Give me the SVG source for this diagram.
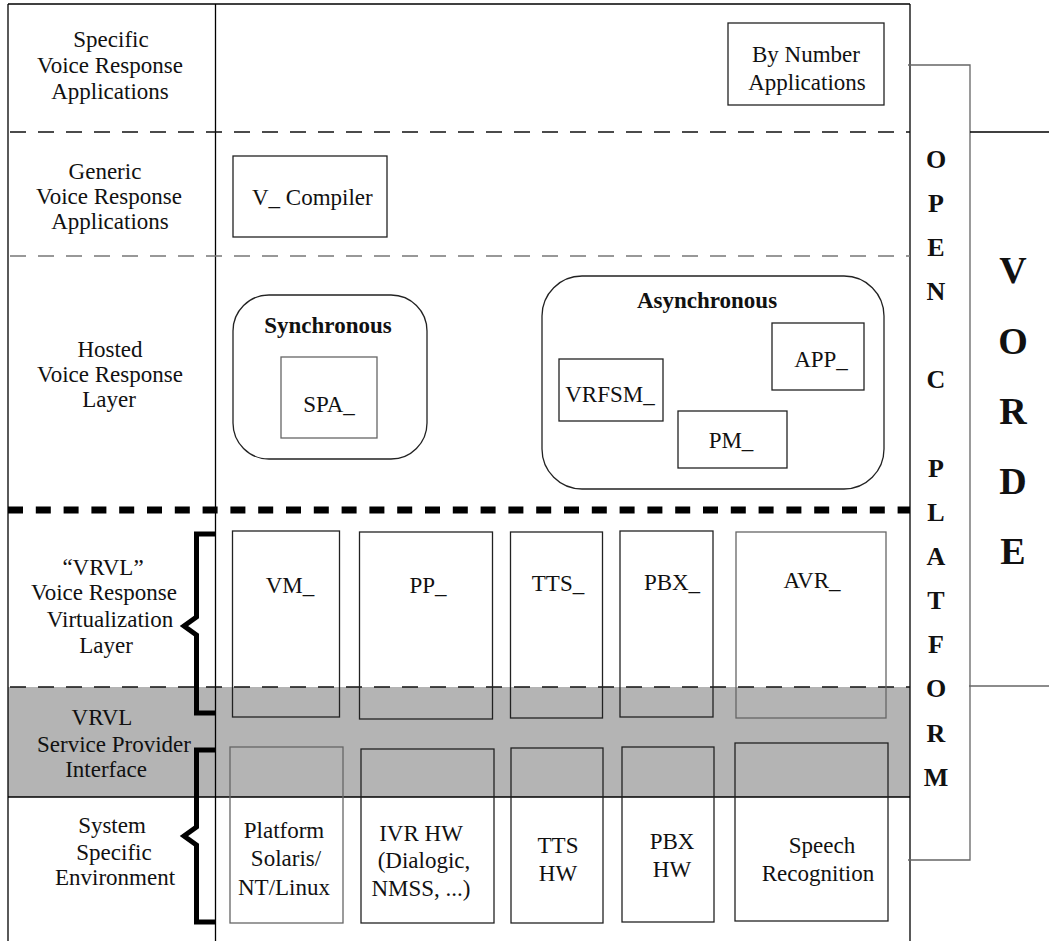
<svg xmlns="http://www.w3.org/2000/svg" width="1049" height="941" viewBox="0 0 1049 941">
<style>
text { font-family: "Liberation Serif", "Times New Roman", serif; font-size: 23px; fill: #111; }
.c { text-anchor: middle; }
.b { font-weight: bold; }
.ltr { font-weight: bold; font-size: 26px; text-anchor: middle; }
.big { font-weight: bold; font-size: 38px; text-anchor: middle; }
.fr { stroke: #000; stroke-width: 1.3; fill: none; }
.bx { stroke: #222; stroke-width: 1.3; fill: none; }
.gr { stroke: #666; stroke-width: 1.3; fill: none; }
.d1 { stroke: #111; stroke-width: 1.3; stroke-dasharray: 16 12; }
.d2 { stroke: #777; stroke-width: 1.3; stroke-dasharray: 16 12; }
.thick { stroke: #000; stroke-width: 7; stroke-dasharray: 15 12.8; }
.brace { stroke: #000; stroke-width: 5; fill: none; stroke-linejoin: miter; }
</style>
<rect x="0" y="0" width="1049" height="941" fill="#fff"/>
<rect x="8" y="687" width="902" height="110" fill="#b4b4b4"/>

<g id="frame">
  <line class="fr" x1="8" y1="4" x2="910" y2="4"/>
  <line class="fr" x1="8" y1="4" x2="8" y2="941"/>
  <line class="fr" x1="215.5" y1="4" x2="215.5" y2="941"/>
  <line class="fr" x1="910" y1="4" x2="910" y2="941"/>
  <line class="fr" x1="8" y1="797" x2="910" y2="797"/>
</g>

<g id="layer-lines">
  <line class="d1" x1="10" y1="132" x2="910" y2="132"/>
  <line class="d2" x1="10" y1="256" x2="910" y2="256"/>
  <line class="thick" x1="8" y1="510" x2="910" y2="510"/>
  <line class="d1" x1="10" y1="687" x2="910" y2="687"/>
</g>

<g id="layer-labels">
  <text class="c" x="111" y="47">Specific</text>
  <text class="c" x="110" y="73">Voice Response</text>
  <text class="c" x="110" y="99">Applications</text>
  <text class="c" x="105" y="179">Generic</text>
  <text class="c" x="109" y="204">Voice Response</text>
  <text class="c" x="110" y="229">Applications</text>
  <text class="c" x="110" y="357">Hosted</text>
  <text class="c" x="110" y="382">Voice Response</text>
  <text class="c" x="109" y="407">Layer</text>
  <text class="c" x="103" y="575">“VRVL”</text>
  <text class="c" x="104" y="600">Voice Response</text>
  <text class="c" x="110" y="627">Virtualization</text>
  <text class="c" x="106" y="653">Layer</text>
  <text class="c" x="102" y="725">VRVL</text>
  <text class="c" x="114" y="752">Service Provider</text>
  <text class="c" x="106" y="777">Interface</text>
  <text class="c" x="112" y="833">System</text>
  <text class="c" x="114" y="860">Specific</text>
  <text class="c" x="115" y="885">Environment</text>
</g>

<g id="braces">
  <path class="brace" d="M215,534 H196.5 V617 L184,626 L196.5,635 V713 H215"/>
  <path class="brace" d="M215,750 H196.5 V827 L184,836 L196.5,845 V922 H215"/>
</g>

<g id="by-number">
  <rect class="bx" x="728" y="23" width="156" height="82"/>
  <text class="c" x="806" y="62">By Number</text>
  <text class="c" x="807" y="90">Applications</text>
</g>

<g id="v-compiler">
  <rect class="bx" x="233" y="156" width="154" height="81"/>
  <text x="252" y="205">V_ Compiler</text>
</g>

<g id="synchronous">
  <rect class="bx" x="233" y="295" width="194" height="164" rx="36" ry="36"/>
  <text class="c b" x="328" y="333">Synchronous</text>
  <rect class="gr" x="281" y="357" width="96" height="81"/>
  <text class="c" x="329" y="412">SPA_</text>
</g>

<g id="asynchronous">
  <rect class="bx" x="542" y="276" width="342" height="213" rx="40" ry="40"/>
  <text class="c b" x="707" y="308">Asynchronous</text>
  <rect class="bx" x="772" y="323" width="92" height="67"/>
  <text class="c" x="821" y="367">APP_</text>
  <rect class="bx" x="559" y="359" width="104" height="62"/>
  <text class="c" x="610" y="402">VRFSM_</text>
  <rect class="bx" x="678" y="411" width="109" height="57"/>
  <text class="c" x="731" y="448">PM_</text>
</g>

<g id="vrvl-modules">
  <rect class="bx" x="232.5" y="531" width="107" height="186"/>
  <text class="c" x="290" y="593">VM_</text>
  <rect class="bx" x="359.5" y="532" width="133" height="187"/>
  <text class="c" x="428" y="593">PP_</text>
  <rect class="bx" x="510.5" y="532" width="92" height="186"/>
  <text class="c" x="558" y="591">TTS_</text>
  <rect class="bx" x="620" y="531" width="93" height="186"/>
  <text class="c" x="672" y="590">PBX_</text>
  <rect class="gr" x="736" y="532" width="150" height="186"/>
  <text class="c" x="812" y="588">AVR_</text>
</g>

<g id="system-modules">
  <rect class="gr" x="230" y="747" width="113" height="176"/>
  <text class="c" x="284" y="838">Platform</text>
  <text class="c" x="286" y="866">Solaris/</text>
  <text class="c" x="284" y="895">NT/Linux</text>
  <rect class="bx" x="361" y="749" width="133" height="174"/>
  <text class="c" x="421" y="841">IVR HW</text>
  <text class="c" x="424" y="868">(Dialogic,</text>
  <text class="c" x="421" y="896">NMSS, ...)</text>
  <rect class="bx" x="511" y="748" width="92" height="175"/>
  <text class="c" x="558" y="853">TTS</text>
  <text class="c" x="558" y="881">HW</text>
  <rect class="bx" x="622" y="747" width="92" height="175"/>
  <text class="c" x="672" y="849">PBX</text>
  <text class="c" x="672" y="877">HW</text>
  <rect class="bx" x="735" y="743" width="153" height="178"/>
  <text class="c" x="822" y="853">Speech</text>
  <text class="c" x="818" y="881">Recognition</text>
</g>

<g id="open-platform">
  <path class="gr" d="M908,65 H970 V860 H908"/>
  <text class="ltr" x="936" y="168">O</text>
  <text class="ltr" x="936" y="212">P</text>
  <text class="ltr" x="936" y="256">E</text>
  <text class="ltr" x="936" y="300">N</text>
  <text class="ltr" x="936" y="388">C</text>
  <text class="ltr" x="936" y="477">P</text>
  <text class="ltr" x="936" y="521">L</text>
  <text class="ltr" x="936" y="565">A</text>
  <text class="ltr" x="936" y="609">T</text>
  <text class="ltr" x="936" y="653">F</text>
  <text class="ltr" x="936" y="697">O</text>
  <text class="ltr" x="936" y="742">R</text>
  <text class="ltr" x="936" y="786">M</text>
</g>

<g id="vorde">
  <line class="fr" x1="970" y1="132" x2="1049" y2="132"/>
  <line class="gr" x1="969" y1="686" x2="1049" y2="686"/>
  <text class="big" x="1013" y="283">V</text>
  <text class="big" x="1013" y="354">O</text>
  <text class="big" x="1013" y="424">R</text>
  <text class="big" x="1013" y="494">D</text>
  <text class="big" x="1013" y="564">E</text>
</g>
</svg>
